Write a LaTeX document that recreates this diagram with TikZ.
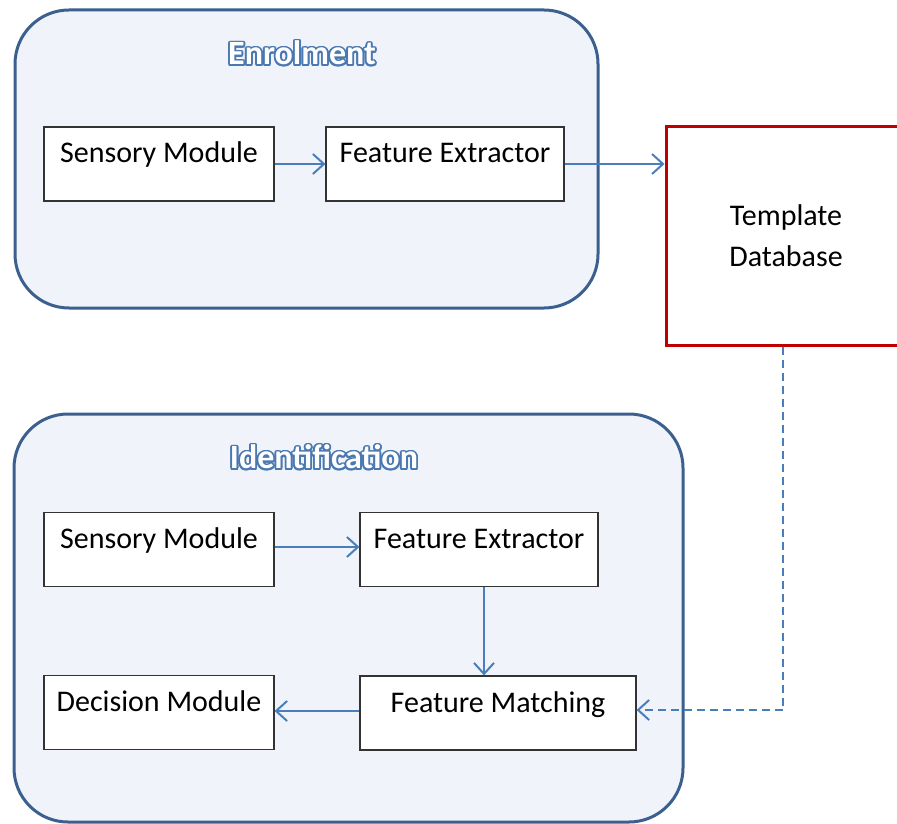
\documentclass[tikz,border=0pt]{standalone}
\usepackage{fontspec}
\setmainfont{Carlito}
\usepackage[copies]{contour}
\usetikzlibrary{positioning}
\usetikzlibrary{arrows.meta}
\definecolor{frameblue}{HTML}{3B5F8E}
\definecolor{paleblue}{HTML}{F0F4FA}
\definecolor{arrowblue}{HTML}{4A7EBB}
\definecolor{titleblue}{HTML}{4A78B0}
\definecolor{dbred}{HTML}{C00000}
\tikzset{>={Straight Barb[length=5.5pt,width=10pt]}}
\tikzset{stage/.style={draw=frameblue, line width=1.5pt, fill=paleblue, rounded corners=27pt, inner sep=0pt}}
\tikzset{stagetitle/.style={font=\fontsize{17}{20}\selectfont\bfseries, text=white, inner sep=0pt}}
\tikzset{block/.style={draw=black!80, line width=0.6pt, fill=white, minimum height=37pt,
    inner xsep=0pt, inner ysep=0pt, text height=18pt, text depth=19pt,
    font=\fontsize{15}{18}\selectfont}}
\tikzset{flow/.style={->, draw=arrowblue, line width=1pt}}
\contourlength{0.9pt}
\newcommand{\stagename}[1]{\contour{titleblue}{#1}}

\begin{document}
\begin{tikzpicture}[x=0.5pt, y=-0.5pt]
\useasboundingbox (0,0) rectangle (897,823);

% enrolment stage
\node[stage, minimum width=291.5pt, minimum height=149pt] (enrol) at (306.5,159) {};
\node[stagetitle] (enrolT) at (302,54) {\stagename{Enrolment}};
\node[block, minimum width=115pt] (sens1) at (159,164) {Sensory Module};
\node[block, minimum width=119pt] (feat1) at (445,164) {Feature Extractor};

% template store
\node[draw=dbred, line width=1.5pt, fill=white, minimum width=120pt, minimum height=109pt,
  align=center, font=\fontsize{15}{20.5}\selectfont] (db) at (786,236) {Template\\Database};

% identification stage
\node[stage, minimum width=334.5pt, minimum height=204pt] (ident) at (348.5,618) {};
\node[stagetitle] (identT) at (324,458) {\stagename{Identification}};
\node[block, minimum width=115pt] (sens2) at (159,549.5) {Sensory Module};
\node[block, minimum width=119pt] (feat2) at (479,549.5) {Feature Extractor};
\node[block, minimum width=138pt] (match) at (498,713) {Feature Matching};
\node[block, minimum width=115pt] (dec) at (159,712.5) {Decision Module};

\draw[flow] (sens1) -- (feat1);
\draw[flow] (feat1.east) -- (feat1.east -| db.west);
\draw[flow] (sens2.east |- 0,547) -- (feat2.west |- 0,547);
\draw[flow] ([xshift=2.5pt]feat2.south) -- ([xshift=2.5pt]feat2.south |- match.north);
\draw[flow] (match.west |- 0,711) -- (dec.east |- 0,711);
\draw[flow, dashed, dash pattern=on 4pt off 2.5pt] ([xshift=-1.5pt]db.south) |- (match.east |- 0,710);
\end{tikzpicture}
\end{document}
